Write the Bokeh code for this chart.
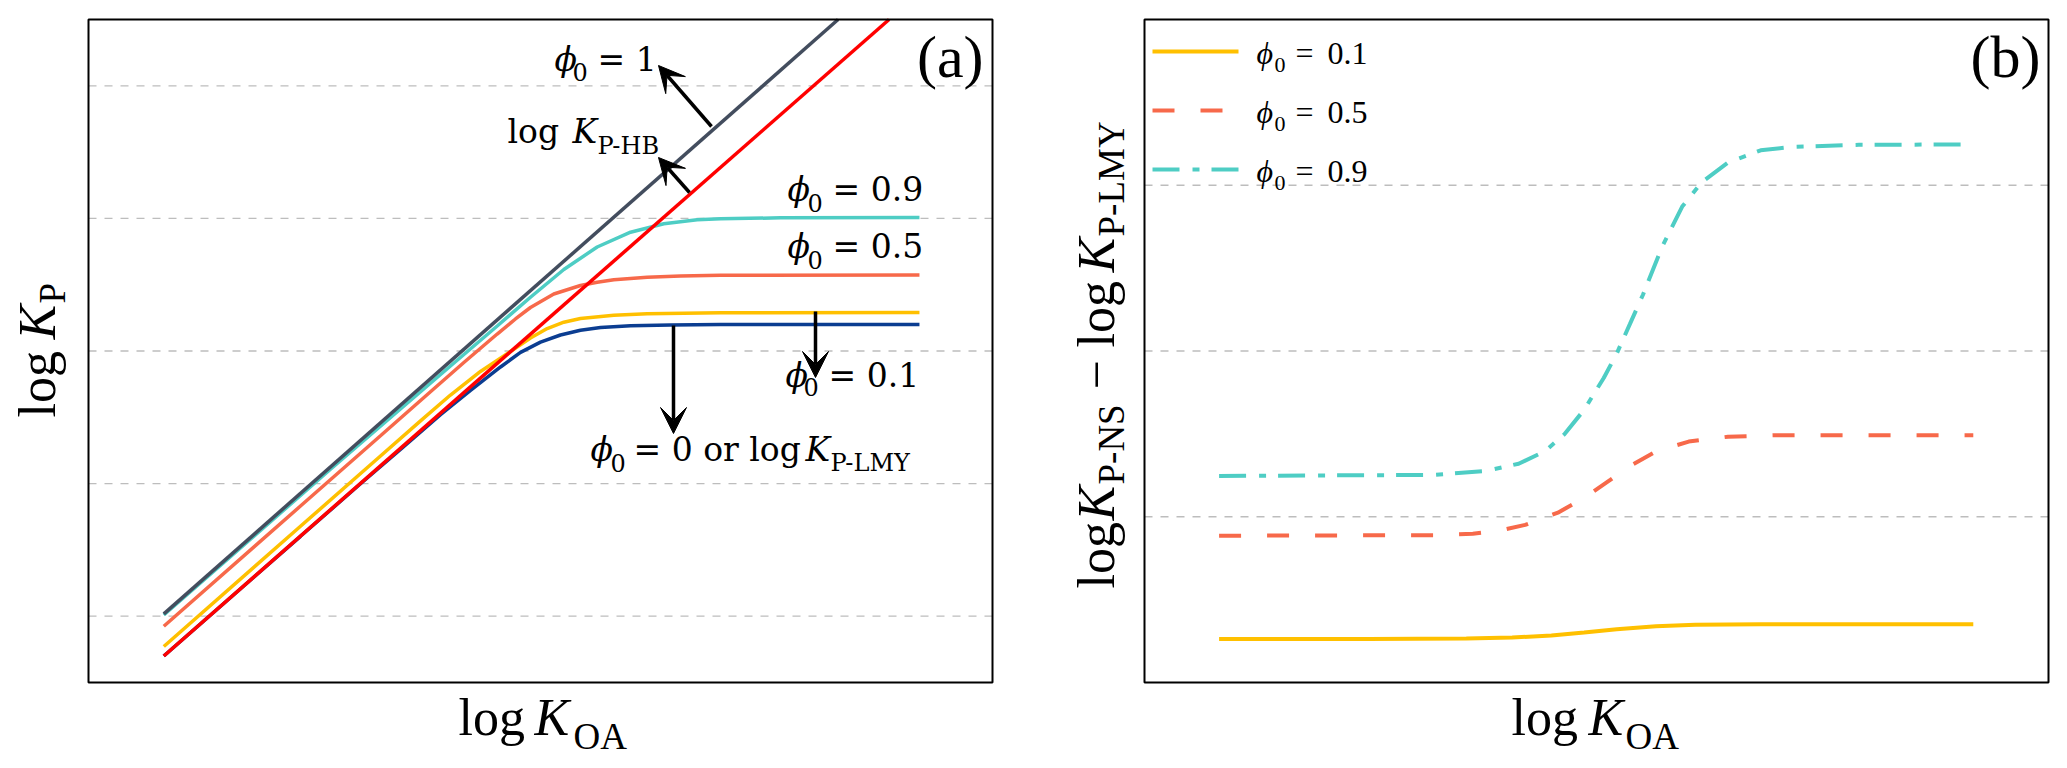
from bokeh.plotting import figure
from bokeh.models import Label, Arrow, VeeHead, Range1d, BoxAnnotation
from bokeh.layouts import row
from bokeh.embed import file_html
from bokeh.resources import INLINE

# ---------------- data (arbitrary log units) ----------------
# Panel (a): log K_P versus log K_OA
hb_x = [0.833, 8.856]                      # log K_P-HB (straight line)
hb_y = [0.400, 10.0]
phi1_x = [0.833, 8.292]                    # phi0 = 1 (straight line)
phi1_y = [1.036, 10.0]
lmy_x = [0.833, 2.345, 3.009, 3.451, 3.894, 4.226, 4.558, 4.779, 5.000, 5.221,
         5.442, 5.664, 5.996, 6.438, 6.991, 9.192]          # phi0 = 0 (log K_P-LMY)
lmy_y = [0.400, 2.205, 2.998, 3.516, 4.039, 4.405, 4.759, 4.979, 5.133, 5.241,
         5.312, 5.353, 5.382, 5.394, 5.398, 5.400]
p01_x = [0.833, 2.345, 3.230, 3.673, 4.004, 4.336, 4.631, 4.889, 5.074, 5.258,
         5.442, 5.811, 6.180, 6.991, 9.192]                 # phi0 = 0.1
p01_y = [0.543, 2.356, 3.416, 3.946, 4.336, 4.691, 4.958, 5.196, 5.339, 5.434,
         5.490, 5.540, 5.563, 5.576, 5.581]
p05_x = [0.833, 2.345, 3.230, 3.783, 4.152, 4.521, 4.723, 4.889, 5.147, 5.442,
         5.627, 5.811, 6.180, 6.549, 6.991, 9.192]          # phi0 = 0.5
p05_y = [0.849, 2.662, 3.722, 4.386, 4.827, 5.256, 5.483, 5.656, 5.860, 5.988,
         6.038, 6.074, 6.113, 6.133, 6.142, 6.146]
p09_x = [0.833, 1.792, 2.677, 3.451, 4.004, 4.521, 4.889, 5.258, 5.627, 5.996,
         6.364, 6.733, 6.991, 7.655, 9.192]                 # phi0 = 0.9
p09_y = [1.018, 2.161, 3.217, 4.125, 4.774, 5.377, 5.811, 6.229, 6.569, 6.792,
         6.919, 6.979, 6.995, 7.008, 7.014]
grid_a = [1, 3, 5, 7, 9]

# Panel (b): log K_P-NS - log K_P-LMY versus log K_OA
b01_x = [0.825, 2.475, 3.560, 4.067, 4.501, 4.863, 5.224, 5.658, 6.093, 6.816, 9.168]
b01_y = [0.656, 0.656, 0.664, 0.679, 0.708, 0.753, 0.804, 0.848, 0.870, 0.878, 0.878]
b05_x = [0.825, 3.198, 3.632, 3.922, 4.211, 4.573, 4.863, 5.152, 5.369, 5.658,
         6.020, 6.454, 6.961, 9.168]
b05_y = [2.214, 2.222, 2.245, 2.289, 2.377, 2.562, 2.783, 3.057, 3.264, 3.486,
         3.634, 3.707, 3.729, 3.729]
b09_x = [0.825, 3.198, 3.777, 4.139, 4.428, 4.645, 4.863, 5.080, 5.224, 5.369,
         5.514, 5.731, 5.948, 6.165, 6.454, 6.816, 7.178, 7.902, 9.132]
b09_y = [3.116, 3.131, 3.190, 3.300, 3.486, 3.744, 4.113, 4.593, 4.962, 5.405,
         5.849, 6.588, 7.178, 7.547, 7.843, 8.027, 8.080, 8.109, 8.116]
grid_b = [2.5, 5.0, 7.5]
legend_labels = ["0.1", "0.5", "0.9"]

# ---------------- styling ----------------
SERIF = "Liberation Serif"
ANN = "DejaVu Serif"
C_DARK = "#434d5e"
C_RED = "#ff0000"
C_BLUE = "#0b3d91"
C_YEL = "#ffc000"
C_ORA = "#f7694a"
C_CYA = "#4ecdc4"

BOX_TOP = 19         # canvas pixel of the box top
BOX_BOTTOM = 682     # canvas pixel of the box bottom
PX_X = 90.4          # pixels per x unit
PX_Y = 66.3          # pixels per y unit
H = 760
BASE_SHIFT = 0.34    # renderer places the alphabetic baseline about this many em lower


def make_fig(width, left):
    # the whole canvas is the plotting frame; the visible box is drawn as an annotation
    right = width - left - 904
    p = figure(width=width, height=H, output_backend="svg", toolbar_location=None,
               x_range=Range1d(-left / PX_X, 10 + right / PX_X),
               y_range=Range1d(-(H - BOX_BOTTOM) / PX_Y, 10 + BOX_TOP / PX_Y),
               min_border=0, x_axis_location=None, y_axis_location=None,
               title_location=None, background_fill_color="white",
               border_fill_color="white")
    p.grid.visible = False
    p.outline_line_color = None
    return p


def add_box_and_grid(p, ticks):
    for t in ticks:
        p.add_layout(Arrow(end=None, x_start=0, x_end=10, y_start=t, y_end=t,
                           line_color="#bdbdbd", line_width=1.3, line_dash="8 8",
                           level="underlay"))
    p.add_layout(BoxAnnotation(left=0, right=10, bottom=0, top=10, fill_color=None,
                               fill_alpha=0, line_color="black", line_width=2,
                               line_alpha=1))


def text(p, x0, px, py, s, size, italic=False, angle=0, align="left", font=SERIF):
    if angle == 0:
        py = py - BASE_SHIFT * size
    else:
        px = px - BASE_SHIFT * size
    p.add_layout(Label(x=(px - x0) / PX_X, y=(BOX_BOTTOM - py) / PX_Y, text=s,
                       text_font=font, text_font_size=f"{size}px",
                       text_font_style="italic" if italic else "normal",
                       text_color="black", text_baseline="alphabetic",
                       text_align=align, angle=angle, angle_units="deg"))


def arrow(p, x0, px1, py1, px2, py2):
    p.add_layout(Arrow(end=VeeHead(size=26, fill_color="black", line_color="black", line_width=1),
                       x_start=(px1 - x0) / PX_X, y_start=(BOX_BOTTOM - py1) / PX_Y,
                       x_end=(px2 - x0) / PX_X, y_end=(BOX_BOTTOM - py2) / PX_Y,
                       line_color="black", line_width=3.5))


# ---------------- panel (a) ----------------
A0 = 88
pa = make_fig(1064, 88)
add_box_and_grid(pa, grid_a)
LW = 3.5
pa.line(lmy_x, lmy_y, line_color=C_BLUE, line_width=LW)
pa.line(p01_x, p01_y, line_color=C_YEL, line_width=LW)
pa.line(p05_x, p05_y, line_color=C_ORA, line_width=LW)
pa.line(p09_x, p09_y, line_color=C_CYA, line_width=LW)
pa.line(phi1_x, phi1_y, line_color=C_DARK, line_width=LW)
pa.line(hb_x, hb_y, line_color=C_RED, line_width=LW)

# annotations
arrow(pa, A0, 711, 126, 658, 65)
arrow(pa, A0, 689, 192, 658, 157)
arrow(pa, A0, 815, 311, 815, 377)
arrow(pa, A0, 673, 325, 673, 433)

S, SS = 33, 24
# phi0 = 1
text(pa, A0, 554, 70, "ϕ", S, italic=True, font=ANN)
text(pa, A0, 572, 80, "0", SS, font=ANN)
text(pa, A0, 597, 70, "= 1", S, font=ANN)
# log K_P-HB
text(pa, A0, 507, 142, "log", S, font=ANN)
text(pa, A0, 572, 142, "K", S, italic=True, font=ANN)
text(pa, A0, 597, 154, "P-HB", SS, font=ANN)
# phi0 = 0.9 / 0.5 / 0.1
for base, lab in [(200, "0.9"), (257, "0.5")]:
    text(pa, A0, 787, base, "ϕ", S, italic=True, font=ANN)
    text(pa, A0, 807, base + 11, "0", SS, font=ANN)
    text(pa, A0, 832, base, "= " + lab, S, font=ANN)
text(pa, A0, 785, 386, "ϕ", S, italic=True, font=ANN)
text(pa, A0, 803, 395, "0", SS, font=ANN)
text(pa, A0, 828, 386, "= 0.1", S, font=ANN)
# phi0 = 0 or log K_P-LMY
text(pa, A0, 590, 460, "ϕ", S, italic=True, font=ANN)
text(pa, A0, 610, 471, "0", SS, font=ANN)
text(pa, A0, 633, 460, "= 0 or log", S, font=ANN)
text(pa, A0, 805, 460, "K", S, italic=True, font=ANN)
text(pa, A0, 830, 471, "P-LMY", SS, font=ANN)
# panel tag
text(pa, A0, 983, 77, "(a)", 60, align="right")
# axis titles
F, FS = 52, 37
text(pa, A0, 458, 735, "log", F)
text(pa, A0, 534, 735, "K", F, italic=True)
text(pa, A0, 573, 749, "OA", FS)
text(pa, A0, 55, 417, "log", F, angle=90)
text(pa, A0, 55, 339, "K", F, italic=True, angle=90)
text(pa, A0, 65, 303, "P", FS, angle=90)

# ---------------- panel (b) ----------------
B0 = 1144
pb = make_fig(992, 80)
add_box_and_grid(pb, grid_b)
LB = 4
pb.line(b01_x, b01_y, line_color=C_YEL, line_width=LB)
pb.line(b05_x, b05_y, line_color=C_ORA, line_width=LB, line_dash="22 26")
pb.line(b09_x, b09_y, line_color=C_CYA, line_width=LB, line_dash="27 13 7 12")

# legend (drawn as annotations so that the subscript can be set)
styles = [(C_YEL, "solid"), (C_ORA, "22 26"), (C_CYA, "27 13 7 12")]
for i, ((col, dash), lab) in enumerate(zip(styles, legend_labels)):
    ly = 51 + 59 * i
    pb.add_layout(Arrow(end=None, x_start=(1152 - B0) / PX_X, x_end=(1238 - B0) / PX_X,
                        y_start=(BOX_BOTTOM - ly) / PX_Y, y_end=(BOX_BOTTOM - ly) / PX_Y,
                        line_color=col, line_width=LB, line_dash=dash))
    base = ly + 12.5
    text(pb, B0, 1256, base, "ϕ", 32, italic=True)
    text(pb, B0, 1274, base + 8.5, "0", 22)
    text(pb, B0, 1295, base, "=", 32)
    text(pb, B0, 1327, base, lab, 32)

text(pb, B0, 2040, 77, "(b)", 60, align="right")
# axis titles
text(pb, B0, 1511, 735, "log", F)
text(pb, B0, 1588, 735, "K", F, italic=True)
text(pb, B0, 1625, 749, "OA", FS)
YB, YBS = 1114, 1124
text(pb, B0, YB, 588, "log", F, angle=90)
text(pb, B0, YB, 520, "K", F, italic=True, angle=90)
text(pb, B0, YBS, 484, "P-NS", FS, angle=90)
text(pb, B0, YB, 389, "−", F, angle=90)
text(pb, B0, YB, 347, "log", F, angle=90)
text(pb, B0, YB, 272, "K", F, italic=True, angle=90)
text(pb, B0, YBS, 236, "P-LMY", FS, angle=90)

layout = row(pa, pb)
open("out.html", "w").write(file_html(layout, INLINE))
